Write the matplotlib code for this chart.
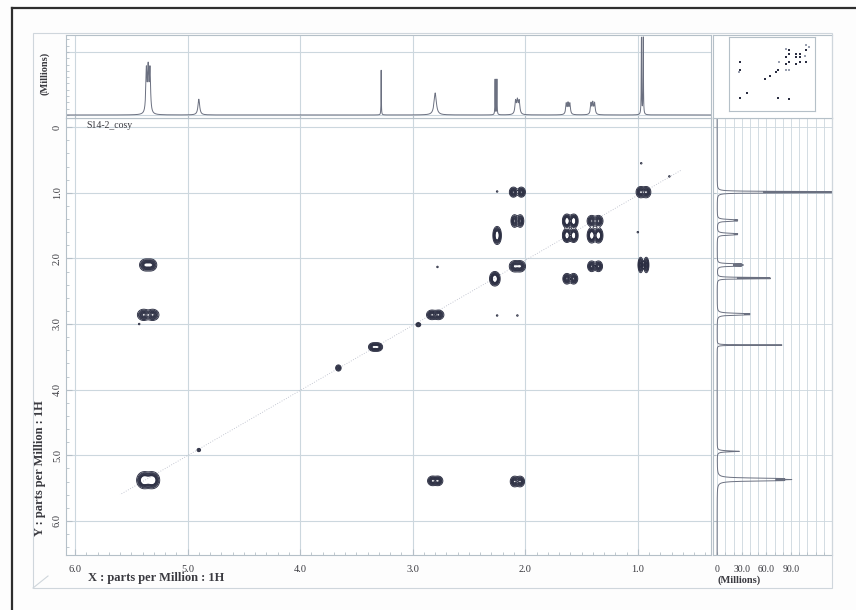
import numpy as np
import matplotlib
matplotlib.use('Agg')
import matplotlib.pyplot as plt
from matplotlib.lines import Line2D
from matplotlib.patches import Rectangle

# cross / diagonal peaks of the COSY map (ppm)
peak_x = [5.35, 5.35, 5.35, 4.90, 3.66, 3.33, 2.95, 2.80, 2.80, 2.07, 2.07, 2.25,
          2.07, 2.27, 1.60, 1.60, 1.38, 1.38, 1.38, 1.60, 0.95, 0.95, 2.07]
peak_y = [2.10, 2.86, 5.38, 4.92, 3.67, 3.35, 3.01, 2.86, 5.39, 0.99, 1.43, 1.65,
          2.12, 2.31, 1.43, 1.65, 1.43, 1.65, 2.12, 2.31, 0.99, 2.10, 5.40]
peak_amp = [1.0, 1.0, 1.0, 0.35, 0.6, 1.0, 0.5, 1.0, 1.0, 1.0, 1.0, 1.0,
            1.0, 1.0, 1.0, 1.0, 1.0, 1.0, 1.0, 1.0, 1.0, 1.0, 1.0]
peak_sx = [0.024, 0.026, 0.028, 0.010, 0.013, 0.020, 0.012, 0.022, 0.020, 0.017, 0.015, 0.016,
           0.022, 0.020, 0.017, 0.017, 0.019, 0.017, 0.017, 0.017, 0.019, 0.011, 0.018]
peak_sy = [0.042, 0.040, 0.050, 0.016, 0.025, 0.030, 0.018, 0.034, 0.034, 0.036, 0.045, 0.050,
           0.040, 0.040, 0.038, 0.038, 0.040, 0.042, 0.038, 0.038, 0.040, 0.055, 0.038]
peak_dx = [0.05, 0.08, 0.07, 0.0, 0.0, 0.04, 0.0, 0.06, 0.05, 0.07, 0.05, 0.0,
           0.05, 0.0, 0.06, 0.06, 0.06, 0.06, 0.06, 0.06, 0.05, 0.05, 0.05]
peak_dy = [0.0, 0.0, 0.04, 0.0, 0.0, 0.0, 0.0, 0.0, 0.0, 0.0, 0.0, 0.06,
           0.0, 0.05, 0.05, 0.05, 0.0, 0.05, 0.0, 0.0, 0.0, 0.0, 0.0]

# weak specks
speck_x = [2.25, 1.00, 2.25, 2.07, 0.97, 5.43, 2.78, 0.72]
speck_y = [0.98, 1.60, 2.87, 2.87, 0.55, 3.00, 2.13, 0.75]

# 1D projection on top
top_ppm = [5.35, 4.90, 3.28, 2.80, 2.26, 2.07, 1.62, 1.40, 0.96]
top_height = [84, 25, 71, 35, 57, 27, 21, 22, 124]
top_width = [0.006, 0.009, 0.0015, 0.012, 0.0018, 0.007, 0.006, 0.006, 0.002]
top_lines = [3, 1, 1, 1, 2, 3, 3, 3, 2]

# 1D projection on the right
right_ppm = [5.37, 4.94, 3.32, 2.85, 2.30, 2.10, 1.63, 1.42, 0.99]
right_height = [91, 27, 79, 40, 65, 32, 25, 25, 150]
right_width = [0.008, 0.008, 0.003, 0.008, 0.004, 0.006, 0.008, 0.008, 0.004]
right_lines = [3, 1, 1, 2, 2, 3, 2, 2, 2]

x_ticks = [6.0, 5.0, 4.0, 3.0, 2.0, 1.0]
x_labels = ['6.0', '5.0', '4.0', '3.0', '2.0', '1.0']
y_ticks = [0, 1.0, 2.0, 3.0, 4.0, 5.0, 6.0]
y_labels = ['0', '1.0', '2.0', '3.0', '4.0', '5.0', '6.0']
mill_ticks = [0, 30, 60, 90]
mill_labels = ['0', '30.0', '60.0', '90.0']

XLIM = (6.08, 0.35)
YLIM = (6.52, -0.14)
GRID = '#ccd7de'
SPINE = '#b5c0c8'
TXT = '#3a3a40'
plt.rcParams['font.family'] = ['Liberation Serif', 'DejaVu Serif']


# спектр из набора мультиплетов
def build_1d(grid, centers, heights, widths, nlines):
    s = np.zeros_like(grid)
    for c, h, w, n in zip(centers, heights, widths, nlines):
        part = np.zeros_like(grid)
        for k in range(n):
            pos = c + (k - (n - 1) / 2) * 0.016
            part += w ** 2 / ((grid - pos) ** 2 + w ** 2)
        s += part / part.max() * h
    return s


# 2D поле из гауссовых пятен
def build_field(gx, gy):
    z = np.zeros_like(gx)
    for x0, y0, a, sx, sy, dx, dy in zip(peak_x, peak_y, peak_amp, peak_sx, peak_sy, peak_dx, peak_dy):
        offx = [-dx / 2, dx / 2] if dx else [0]
        offy = [-dy / 2, dy / 2] if dy else [0]
        for ox in offx:
            for oy in offy:
                z += a * np.exp(-((gx - x0 - ox) ** 2 / (2 * sx ** 2) + (gy - y0 - oy) ** 2 / (2 * sy ** 2)))
    for x0, y0 in zip(speck_x, speck_y):
        z += 0.2 * np.exp(-((gx - x0) ** 2 / (2 * 0.006 ** 2) + (gy - y0) ** 2 / (2 * 0.01 ** 2)))
    return z


W, H = 856, 610
fig = plt.figure(figsize=(W / 100, H / 100), dpi=100, facecolor='#fdfdfd')


def px_axes(x0, y0, x1, y1):
    return fig.add_axes([x0 / W, 1 - y1 / H, (x1 - x0) / W, (y1 - y0) / H])


def light_spines(ax):
    for sp in ax.spines.values():
        sp.set_color(SPINE)
        sp.set_linewidth(0.8)


# main contour map
ax = px_axes(66, 118, 711, 555)
gx, gy = np.meshgrid(np.linspace(0.3, 6.1, 1500), np.linspace(-0.2, 6.6, 1100))
z = build_field(gx, gy)
ax.plot([0.62, 5.6], [0.66, 5.6], linestyle=(0, (1, 2)), color='#b4b8c6', lw=0.6)
ax.contour(gx, gy, z, levels=[0.1, 0.2, 0.3, 0.42, 0.54, 0.66, 0.78, 0.9],
           colors='#2b2e42', linewidths=0.65)
ax.set_xlim(XLIM)
ax.set_ylim(YLIM)
ax.set_xticks(x_ticks)
ax.set_xticklabels(x_labels)
ax.set_xticks(np.arange(0.4, 6.05, 0.1), minor=True)
ax.set_yticks(y_ticks)
ax.set_yticks(np.arange(0, 6.5, 0.2), minor=True)
ax.set_yticklabels(y_labels, rotation=90, va='center')
ax.tick_params(which='both', direction='in', colors=SPINE, labelcolor=TXT, labelsize=7.5)
ax.tick_params(which='major', length=4)
ax.tick_params(which='minor', length=2)
ax.tick_params(axis='x', pad=7)
ax.tick_params(axis='y', pad=3)
ax.grid(True, which='major', color=GRID, lw=0.8)
light_spines(ax)
ax.text(5.9, -0.02, 'S14-2_cosy', fontsize=7, color=TXT, va='center')

# top 1D spectrum
axt = px_axes(66, 35, 711, 118)
xs = np.linspace(0.3, 6.1, 8000)
axt.plot(xs, build_1d(xs, top_ppm, top_height, top_width, top_lines), color='#6b7080', lw=0.7)
axt.set_xlim(XLIM)
axt.set_ylim(-4.8, 127)
axt.set_xticks(x_ticks)
axt.set_yticks([0, 100])
axt.set_yticks(np.arange(0, 121, 10), minor=True)
axt.tick_params(which='both', direction='in', colors=SPINE, labelleft=False, labelbottom=False, length=2)
axt.grid(True, which='major', color=GRID, lw=0.8)
light_spines(axt)

# right 1D spectrum
axr = px_axes(713, 118, 832, 555)
ys = np.linspace(-0.2, 6.6, 8000)
axr.plot(build_1d(ys, right_ppm, right_height, right_width, right_lines), ys, color='#6b7080', lw=0.7)
axr.set_xlim(-5, 140)
axr.set_ylim(YLIM)
axr.set_yticks(y_ticks)
axr.set_xticks(mill_ticks)
axr.set_xticklabels(mill_labels)
axr.set_xticks(np.arange(0, 141, 10), minor=True)
axr.tick_params(which='both', direction='in', colors=SPINE, labelcolor=TXT, labelsize=7, labelleft=False, length=2)
axr.tick_params(axis='x', pad=7)
axr.grid(True, which='both', color=GRID, lw=0.6)
light_spines(axr)

# small overview box
axb = px_axes(713, 35, 832, 118)
axb.set_xticks([])
axb.set_yticks([])
light_spines(axb)
axo = px_axes(729, 37, 815, 111)
axo.scatter(peak_x, peak_y, s=3, marker='s', color='#2b2e42', lw=0)
axo.scatter(speck_x, speck_y, s=1, marker='s', color='#9aa0b0', lw=0)
axo.set_xlim(XLIM)
axo.set_ylim(YLIM)
axo.set_xticks([])
axo.set_yticks([])
light_spines(axo)

# labels
fig.text(88 / W, 1 - 578 / H, 'X : parts per Million : 1H', fontsize=9, fontweight='bold', color=TXT, va='center')
fig.text(40 / W, 1 - 468 / H, 'Y : parts per Million : 1H', fontsize=9, fontweight='bold', color=TXT,
         rotation=90, ha='center', va='center')
fig.text(45 / W, 1 - 73 / H, '(Millions)', fontsize=7.5, fontweight='bold', color=TXT,
         rotation=90, ha='center', va='center')
fig.text(718 / W, 1 - 580 / H, '(Millions)', fontsize=7.5, fontweight='bold', color=TXT, va='center')

# рамки
fig.add_artist(Rectangle((33 / W, 1 - 588 / H), (832 - 33) / W, (588 - 33) / H, transform=fig.transFigure,
                         fill=False, edgecolor='#cfd6dc', lw=0.8))
fig.add_artist(Line2D([12 / W, 12 / W], [0, 1 - 8 / H], transform=fig.transFigure, color='#2e2e2e', lw=1.6))
fig.add_artist(Line2D([12 / W, 1], [1 - 8 / H, 1 - 8 / H], transform=fig.transFigure, color='#2e2e2e', lw=1.6))
fig.add_artist(Line2D([33 / W, 48 / W], [1 - 588 / H, 1 - 576 / H], transform=fig.transFigure, color='#cfd6dc', lw=0.8))

fig.savefig('out.png', dpi=100, facecolor=fig.get_facecolor())
